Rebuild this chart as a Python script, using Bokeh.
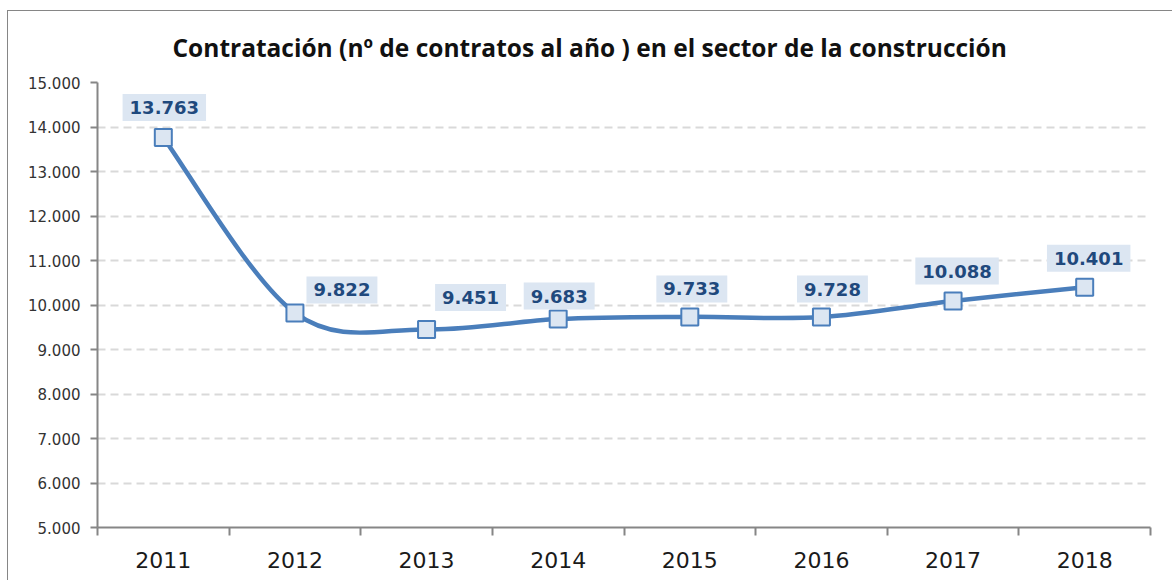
from bokeh.plotting import figure
from bokeh.models import FixedTicker, Range1d, ColumnDataSource
from bokeh.core.properties import value
from bokeh.embed import file_html
from bokeh.resources import INLINE

# ---- data ----
years = ["2011", "2012", "2013", "2014", "2015", "2016", "2017", "2018"]
contracts = [13763, 9822, 9451, 9683, 9733, 9728, 10088, 10401]
y_ticks = [5000, 6000, 7000, 8000, 9000, 10000, 11000, 12000, 13000, 14000, 15000]
title_text = "Contratación (nº de contratos al año ) en el sector de la construcción"

# label placement (screen pixels, relative to the point)
label_dx = [1, 47, 44, 1, 2, 11, 4, 4]
label_dy = [30, 23, 32, 23, 28, 28, 30, 29]

LINE = "#4A7EBB"
FILL = "#DCE6F2"
AXIS = "#868686"

def fmt(v):
    return f"{v:,}".replace(",", ".")

n = len(years)
xs = [i + 0.5 for i in range(n)]

p = figure(width=1165, height=570, x_range=Range1d(0, n), y_range=Range1d(5000, 15000),
           output_backend="svg", toolbar_location=None,
           min_border_left=89, min_border_right=23, min_border_top=71, min_border_bottom=54)
p.outline_line_color = None
p.background_fill_color = "white"
p.border_fill_color = "white"
p.styles = {"border-left": "1px solid #868686", "border-top": "1px solid #868686",
            "margin-left": "7px", "margin-top": "10px"}

# title
p.title.text = title_text
p.title.text_font = "Open Sans"
p.title.text_font_style = "bold"
p.title.text_font_size = "24.5px"
p.title.text_color = "#111111"
p.title.align = "left"
p.title.vertical_align = "top"
p.title.offset = 75
p.title.standoff = 34

# x axis
xa = p.xaxis[0]
xa.ticker = FixedTicker(ticks=xs, minor_ticks=list(range(n + 1)))
xa.major_label_overrides = {x: y for x, y in zip(xs, years)}
xa.major_tick_line_color = None
xa.minor_tick_out = 8
xa.minor_tick_in = 0
xa.minor_tick_line_color = AXIS
xa.minor_tick_line_width = 2
xa.axis_line_color = AXIS
xa.axis_line_width = 2
xa.major_label_standoff = 16
xa.major_label_text_font = "DejaVu Sans"
xa.major_label_text_font_size = "22px"
xa.major_label_text_color = "#1a1a1a"

# y axis
ya = p.yaxis[0]
ya.ticker = FixedTicker(ticks=y_ticks)
ya.major_label_overrides = {t: fmt(t) for t in y_ticks}
ya.major_tick_out = 7
ya.major_tick_in = 0
ya.major_tick_line_color = AXIS
ya.major_tick_line_width = 2
ya.minor_tick_line_color = None
ya.axis_line_color = AXIS
ya.axis_line_width = 2
ya.major_label_standoff = 10
ya.major_label_text_font = "DejaVu Sans"
ya.major_label_text_font_size = "15px"
ya.major_label_text_color = "#333333"

p.xgrid.grid_line_color = None
p.ygrid.ticker = FixedTicker(ticks=y_ticks[1:])
p.ygrid.grid_line_color = "#D9D9D9"
p.ygrid.grid_line_width = 2
p.ygrid.grid_line_dash = "8 5"

# smoothed line (Catmull-Rom style bezier segments computed from the data)
pts = list(zip(xs, contracts))
x0, y0, x1, y1, cx0, cy0, cx1, cy1 = [], [], [], [], [], [], [], []
for i in range(n - 1):
    P0 = pts[max(i - 1, 0)]
    P1 = pts[i]
    P2 = pts[i + 1]
    P3 = pts[min(i + 2, n - 1)]
    x0.append(P1[0]); y0.append(P1[1])
    x1.append(P2[0]); y1.append(P2[1])
    cx0.append(P1[0] + (P2[0] - P0[0]) / 6); cy0.append(P1[1] + (P2[1] - P0[1]) / 6)
    cx1.append(P2[0] - (P3[0] - P1[0]) / 6); cy1.append(P2[1] - (P3[1] - P1[1]) / 6)
p.bezier(x0=x0, y0=y0, x1=x1, y1=y1, cx0=cx0, cy0=cy0, cx1=cx1, cy1=cy1,
         line_color=LINE, line_width=4.5)

src = ColumnDataSource(dict(x=xs, y=contracts, label=[fmt(v) for v in contracts],
                            dx=label_dx, dy=[-d for d in label_dy]))
p.scatter("x", "y", source=src, marker="square", size=17, fill_color=FILL,
          line_color=LINE, line_width=2)

p.text(x="x", y="y", text="label", x_offset="dx", y_offset="dy", source=src,
       text_font=value("DejaVu Sans"), text_font_style="bold", text_font_size="18px",
       text_color="#1F497D", text_align="center", text_baseline="middle",
       background_fill_color=FILL, padding=7)

open("out.html", "w").write(file_html(p, INLINE))
